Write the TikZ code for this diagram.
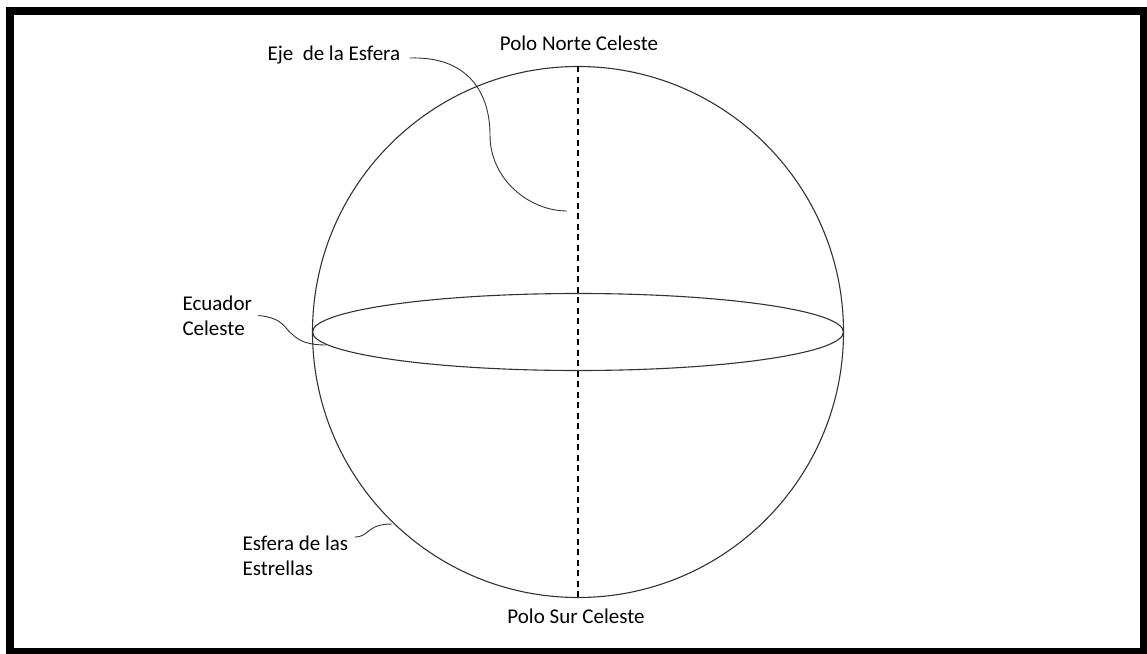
\documentclass[tikz,border=0pt]{standalone}
\usepackage{fontspec}
\setmainfont{Carlito}
\begin{document}
\begin{tikzpicture}[x=1pt, y=-1pt, every node/.style={font=\fontsize{21}{25}\selectfont}]
    \useasboundingbox (0,0) rectangle (1147,653);
    \draw[line width=8pt] (10,11) rectangle (1144,652);   % frame

    \coordinate (O) at (578,332);
    \coordinate (N) at (578,66);
    \coordinate (S) at (578,598);
    \coordinate (ejefin) at (567,211);
    \coordinate (ecuafin) at (326,345);
    \coordinate (esferafin) at (392,524);

    \node[] (norte) at (579,43) {Polo Norte Celeste};
    \node[] (sur) at (576,616) {Polo Sur Celeste};
    \node[anchor=west] (eje) at (264,55) {Eje\ \ de la Esfera};
    \node[anchor=west,align=left] (ecuador) at (179,315.5) {Ecuador\\Celeste};
    \node[anchor=west] (esfera) at (239,543) {Esfera de las};
    \node[anchor=west] (estrellas) at (239,568) {Estrellas};

    \draw[black!80, line width=1.1pt] (O) circle[radius=265.5pt];
    \draw[black!80, line width=1.1pt] (O) ellipse[x radius=265.5pt, y radius=38.5pt];
    \draw[line width=1.8pt, dash pattern=on 6pt off 4.5pt] (N) -- (S);

    \draw[black!80, line width=0.9pt] ([xshift=6pt,yshift=-3pt]eje.east) .. controls (470,56) and (490,95) .. (490,135)
        .. controls (490,180) and (530,211) .. (ejefin);
    \draw[black!80, line width=0.9pt] ([xshift=3pt]ecuador.east) .. controls (285,318) and (285,330) .. (292,334)
        .. controls (300,342) and (310,345) .. (ecuafin);
    \draw[black!80, line width=0.9pt] ([xshift=3pt,yshift=6pt]esfera.east) .. controls (370,537) and (366,524) .. (esferafin);
\end{tikzpicture}
\end{document}
